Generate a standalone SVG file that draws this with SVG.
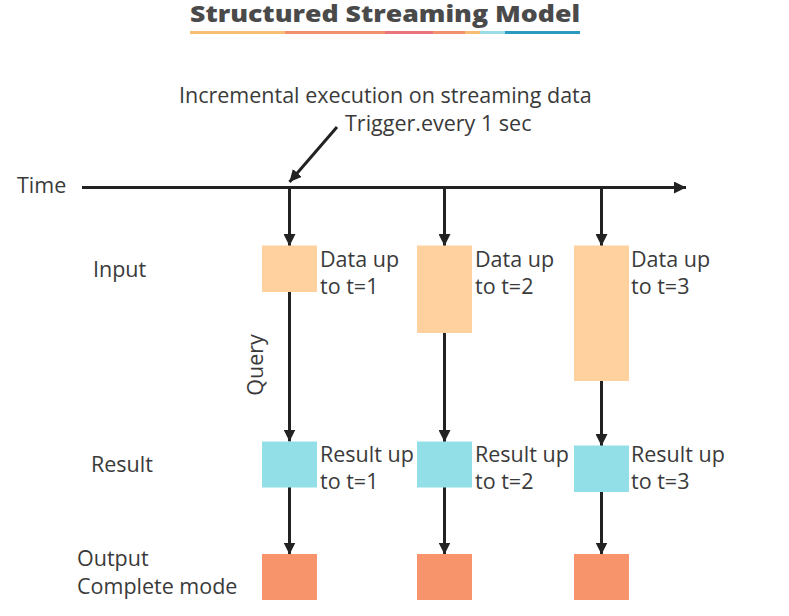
<svg xmlns="http://www.w3.org/2000/svg" width="789" height="616" viewBox="0 0 789 616">
<style>
text{font-family:"Open Sans","Noto Sans","Liberation Sans",sans-serif;font-size:21.5px;fill:#3a3a3a}
.title{font-weight:800;font-size:23px;fill:#4a4a4a}
.ln{stroke:#222;stroke-width:3;fill:none}
.in{fill:#fed19e}
.res{fill:#93dfe8}
.out{fill:#f7946b}
</style>
<defs>
<marker id="ah" markerUnits="userSpaceOnUse" markerWidth="12" markerHeight="12" refX="12" refY="6" orient="auto">
<path d="M0,0 L12,6 L0,12 z" fill="#222"/>
</marker>
</defs>
<rect width="789" height="616" fill="#fff"/>
<g id="title">
<text class="title" x="190" y="22" textLength="390" lengthAdjust="spacingAndGlyphs">Structured Streaming Model</text>
<rect x="190" y="31" width="95" height="3" fill="#f6bd74"/>
<rect x="285" y="31" width="100" height="3" fill="#f0926c"/>
<rect x="385" y="31" width="48" height="3" fill="#e8737a"/>
<rect x="433" y="31" width="32" height="3" fill="#f0926c"/>
<rect x="465" y="31" width="15" height="3" fill="#f6bd74"/>
<rect x="480" y="31" width="25" height="3" fill="#9bdce8"/>
<rect x="505" y="31" width="75" height="3" fill="#2a9bbf"/>
</g>
<g id="labels">
<text x="179" y="103">Incremental execution on streaming data</text>
<text x="345" y="131">Trigger.every 1 sec</text>
<text x="17" y="193">Time</text>
<text x="93" y="277">Input</text>
<text x="91" y="472">Result</text>
<text x="77" y="566">Output</text>
<text x="77" y="594">Complete mode</text>
<text transform="translate(262.5,365) rotate(-90)" text-anchor="middle">Query</text>
</g>
<g id="connectors">
<line class="ln" x1="82" y1="187.5" x2="686" y2="187.5" marker-end="url(#ah)"/>
<line class="ln" x1="337" y1="127" x2="289.5" y2="182" marker-end="url(#ah)"/>
<line class="ln" x1="289.5" y1="187.5" x2="289.5" y2="246" marker-end="url(#ah)"/>
<line class="ln" x1="289.5" y1="292" x2="289.5" y2="441.5" marker-end="url(#ah)"/>
<line class="ln" x1="289.5" y1="487" x2="289.5" y2="554.5" marker-end="url(#ah)"/>
<line class="ln" x1="444.5" y1="187.5" x2="444.5" y2="246" marker-end="url(#ah)"/>
<line class="ln" x1="444.5" y1="333" x2="444.5" y2="442" marker-end="url(#ah)"/>
<line class="ln" x1="444.5" y1="487" x2="444.5" y2="554.5" marker-end="url(#ah)"/>
<line class="ln" x1="601.5" y1="187.5" x2="601.5" y2="246" marker-end="url(#ah)"/>
<line class="ln" x1="601.5" y1="381" x2="601.5" y2="446" marker-end="url(#ah)"/>
<line class="ln" x1="601.5" y1="492" x2="601.5" y2="554.5" marker-end="url(#ah)"/>
</g>
<g id="input1"><rect class="in" x="262" y="245.5" width="55" height="46.5"/><text x="320" y="267">Data up</text><text x="320" y="294">to t=1</text></g>
<g id="input2"><rect class="in" x="417" y="245.5" width="55" height="87.5"/><text x="475" y="267">Data up</text><text x="475" y="294">to t=2</text></g>
<g id="input3"><rect class="in" x="574" y="245.5" width="55" height="135.5"/><text x="631" y="267">Data up</text><text x="631" y="294">to t=3</text></g>
<g id="result1"><rect class="res" x="262" y="441.5" width="55" height="46"/><text x="320" y="462">Result up</text><text x="320" y="489">to t=1</text></g>
<g id="result2"><rect class="res" x="417" y="441.5" width="55" height="46"/><text x="475" y="462">Result up</text><text x="475" y="489">to t=2</text></g>
<g id="result3"><rect class="res" x="574" y="445.5" width="55" height="46.5"/><text x="631" y="462">Result up</text><text x="631" y="489">to t=3</text></g>
<g id="output1"><rect class="out" x="262" y="554" width="55" height="46"/></g>
<g id="output2"><rect class="out" x="417" y="554" width="55" height="46"/></g>
<g id="output3"><rect class="out" x="574" y="554" width="55" height="46"/></g>
</svg>
